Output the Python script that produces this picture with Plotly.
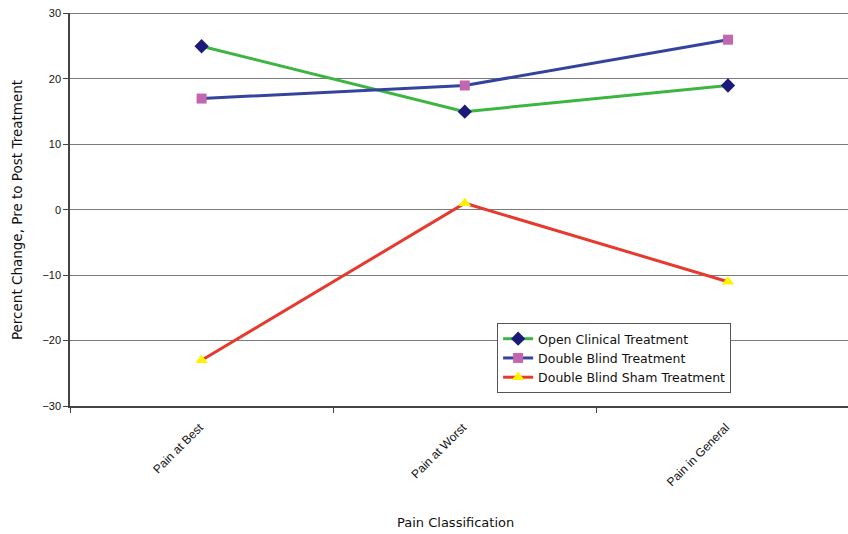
import plotly.graph_objects as go

categories = ["Pain at Best", "Pain at Worst", "Pain in General"]
open_clinical = [25, 15, 19]
double_blind = [17, 19, 26]
double_blind_sham = [-23, 1, -11]
y_ticks = [-30, -20, -10, 0, 10, 20, 30]

FONT = "Liberation Sans, Arial, sans-serif"
WIDE = "DejaVu Sans, Liberation Sans, sans-serif"

fig = go.Figure()
fig.add_trace(go.Scatter(
    x=categories, y=open_clinical, mode="lines+markers", name="Open Clinical Treatment",
    line=dict(color="#3DB541", width=3),
    marker=dict(symbol="diamond", size=11, color="#1C1A78")))
fig.add_trace(go.Scatter(
    x=categories, y=double_blind, mode="lines+markers", name="Double Blind Treatment",
    line=dict(color="#34449C", width=3),
    marker=dict(symbol="square", size=10, color="#C266AE")))
fig.add_trace(go.Scatter(
    x=categories, y=double_blind_sham, mode="lines+markers", name="Double Blind Sham Treatment",
    line=dict(color="#E63A2E", width=3),
    marker=dict(symbol="triangle-up", size=11, color="#FFF200")))

fig.update_layout(
    width=848, height=534,
    margin=dict(l=70, r=0, t=13, b=128),
    paper_bgcolor="white", plot_bgcolor="white",
    font=dict(family=FONT, color="#111111", size=11),
    showlegend=True,
    legend=dict(x=0.549, y=0.211, xanchor="left", yanchor="top",
                bgcolor="white", bordercolor="#555555", borderwidth=1,
                font=dict(size=12.5, family=WIDE), tracegroupgap=0,
                itemwidth=30),
    annotations=[
        dict(text="Percent Change, Pre to Post Treatment", xref="paper", yref="paper",
             x=-0.068, y=0.4987, xanchor="center", yanchor="middle", textangle=-90,
             showarrow=False, font=dict(size=13.5, family=WIDE, color="#111111")),
        dict(text="Pain Classification", xref="paper", yref="paper",
             x=0.496, y=-0.2977, xanchor="center", yanchor="middle",
             showarrow=False, font=dict(size=13, family=WIDE, color="#111111")),
    ],
)
# top gridline (plotly omits the gridline that sits on the plot edge)
fig.add_shape(type="line", xref="paper", yref="y", x0=0, x1=1,
              y0=y_ticks[-1], y1=y_ticks[-1], layer="below",
              line=dict(color="#7A7A7A", width=1.2))

fig.update_xaxes(
    type="category", range=[-0.5, 2.456], automargin=False,
    showline=True, linecolor="#444444", linewidth=1.5,
    ticks="outside", tickson="boundaries", ticklen=5, tickcolor="#444444",
    tickangle=-45, tickfont=dict(size=12, family=FONT),
    ticklabelstandoff=8, ticklabelshift=-2,
    showgrid=False,
)
fig.update_yaxes(
    range=[-30, 30.08], tickvals=y_ticks, automargin=False,
    showline=True, linecolor="#444444", linewidth=1.5,
    ticks="outside", ticklen=5, tickcolor="#444444",
    showgrid=True, gridcolor="#7A7A7A", gridwidth=1.2,
    zeroline=False,
    tickfont=dict(size=11, family=FONT),
)

# remove the browser's default 8px body margin so the figure fills the window
fig.write_html("out.html", config={"displayModeBar": False},
               post_script="document.body.style.margin='0';document.body.style.overflow='hidden';")
